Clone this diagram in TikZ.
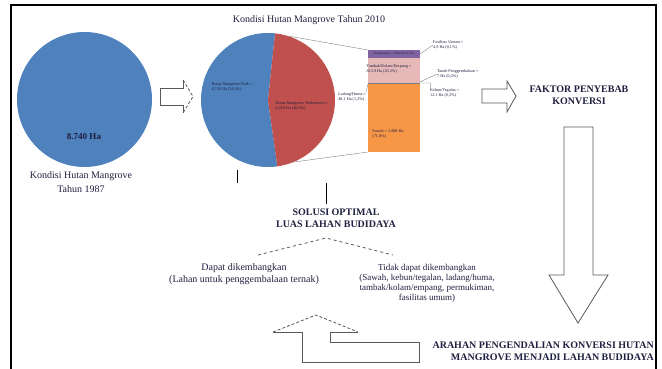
\documentclass[tikz,border=0pt]{standalone}
\usepackage{fontspec}
\setmainfont{Liberation Serif}
\usetikzlibrary{positioning,calc}
\definecolor{biru}{HTML}{4F81BD}
\definecolor{merah}{HTML}{C0504D}
\definecolor{ungu}{HTML}{8064A2}
\definecolor{merahmuda}{HTML}{E6B9B8}
\definecolor{jingga}{HTML}{F79646}
\definecolor{tinta}{HTML}{1F1F3F}

\begin{document}
\begin{tikzpicture}[x=1pt,y=1pt,
    teks/.style={align=center,inner sep=0pt,text=tinta,font=\fontsize{10}{13.5}\selectfont},
    tebal/.style={align=center,inner sep=0pt,text=tinta,font=\fontsize{10}{12}\selectfont\bfseries},
    kecil/.style={align=left,inner sep=0pt,text=tinta,font=\fontsize{4.2}{5.4}\selectfont},
    panah/.style={draw=gray!70!black,line width=0.8pt},
    garis/.style={draw=gray,line width=0.4pt}]

    \def\pusx{268}%Pusat pie x
    \def\pusy{-100}%Pusat pie y
    \def\rad{67}%Jari-jari pie

    \useasboundingbox (0,0) rectangle (662,-369);

    %Bingkai
    \draw[line width=2.5pt] (11,-375) |- (656,-5) -- (656,-375);

    %Lingkaran 1987
    \fill[biru] (84.5,-99.5) circle (67.5);
    \node[tebal,font=\fontsize{9}{11}\selectfont\bfseries] (luas) at (84,-137) {8.740 Ha};
    \node[teks] (t1987) at (81,-182) {Kondisi Hutan Mangrove\\Tahun 1987};

    %Panah 1
    \draw[panah] (183,-80)--(183,-88)--(160,-88)--(160,-105)--(183,-105)--(183,-113);
    \draw[panah,densely dashed] (183,-80)--(193,-96.5)--(183,-113);

    %Pie 2010
    \node[teks] (t2010) at (309,-20) {Kondisi Hutan Mangrove Tahun 2010};
    \fill[biru] (\pusx,\pusy) -- ++(84:\rad) arc[start angle=84,end angle=278,radius=\rad] -- cycle;
    \fill[merah] (\pusx,\pusy) -- ++(-82:\rad) arc[start angle=-82,end angle=84,radius=\rad] -- cycle;
    \node[kecil] (baik) at (232,-87) {Hutan Mangrove Baik =\\4.720 Ha (54,0\%)};
    \node[kecil] (rusak) at (302,-106) {Hutan Mangrove Terkonversi =\\4.020 Ha (46,0\%)};

    %Batang
    \fill[ungu] (368,-50) rectangle (420,-58);
    \fill[merahmuda] (368,-58) rectangle (420,-83);
    \fill[jingga] (368,-83) rectangle (420,-152);
    \draw[garis] (368,-83)--(420,-83);
    \draw[garis] ($(\pusx,\pusy)+(73:\rad)$) -- (368,-50);
    \draw[garis] ($(\pusx,\pusy)+(-68:\rad)$) -- (368,-152);
    \node[kecil,font=\fontsize{3.3}{4}\selectfont] (pmk) at (394,-54) {Permukiman = 9,84 Ha (0,2\%)};
    \node[kecil] (tmb) at (389,-69) {Tambak/Kolam/Empang =\\813,9 Ha (20,2\%)};
    \node[kecil] (swh) at (388,-134) {Sawah = 2.888 Ha\\(71,8\%)};
    \node[kecil,anchor=west] (fas) at (433,-45) {Fasilitas Umum =\\4,9 Ha (0,1\%)};
    \node[kecil,anchor=west] (pgb) at (437,-74) {Tanah Penggembalaan =\\7 Ha (0,2\%)};
    \node[kecil,anchor=west] (kbn) at (430,-93) {Kebun/Tegalan =\\12,1 Ha (0,3\%)};
    \node[kecil,anchor=east] (ldg) at (366,-97) {Ladang/Huma =\\48,1 Ha (1,2\%)};
    \draw[garis] (420,-54)--(fas.west);
    \draw[garis] (420,-82)--(pgb.west);
    \draw[garis] (420,-83)--(431,-83)--(kbn.north west);
    \draw[garis] (368,-84)--(ldg.north east);

    %Garis tegak
    \draw[line width=0.8pt] (237,-170)--(237,-183);
    \draw[line width=0.8pt] (326,-183)--(326,-204);

    %Solusi
    \node[tebal] (solusi) at (336,-218) {SOLUSI OPTIMAL\\LUAS LAHAN BUDIDAYA};
    \coordinate (puncak) at (326,-238);
    \node[teks,font=\fontsize{10}{12}\selectfont] (dapat) at (244,-274) {Dapat dikembangkan\\(Lahan untuk penggembalaan ternak)};
    \node[teks,font=\fontsize{9}{10}\selectfont] (tidak) at (427,-283) {Tidak dapat dikembangkan\\(Sawah, kebun/tegalan, ladang/huma,\\tambak/kolam/empang, permukiman,\\fasilitas umum)};
    \draw[gray!70!black,dashed,line width=0.8pt] (258,-255)--(puncak)--(393,-255);

    %Faktor
    \draw[panah] (507,-81)--(507,-89)--(482,-89)--(482,-103)--(507,-103)--(507,-112)--(516,-96)--cycle;
    \node[tebal] (faktor) at (579,-95) {FAKTOR PENYEBAB\\KONVERSI};

    %Panah turun
    \draw[panah] (564,-127)--(564,-275)--(549,-275)--(578,-323)--(608,-275)--(593,-275)--(593,-127)--cycle;

    %Arahan
    \node[tebal,align=right,anchor=east] (arahan) at (654,-351) {ARAHAN PENGENDALIAN KONVERSI HUTAN\\MANGROVE MENJADI LAHAN BUDIDAYA};

    %Panah belok
    \draw[panah] (273,-332)--(302,-332)--(302,-362)--(419,-362)--(419,-342)--(330,-342)--(330,-332)--(358,-332);
    \draw[panah,densely dashed] (273,-332)--(316,-315)--(358,-332);

\end{tikzpicture}
\end{document}
